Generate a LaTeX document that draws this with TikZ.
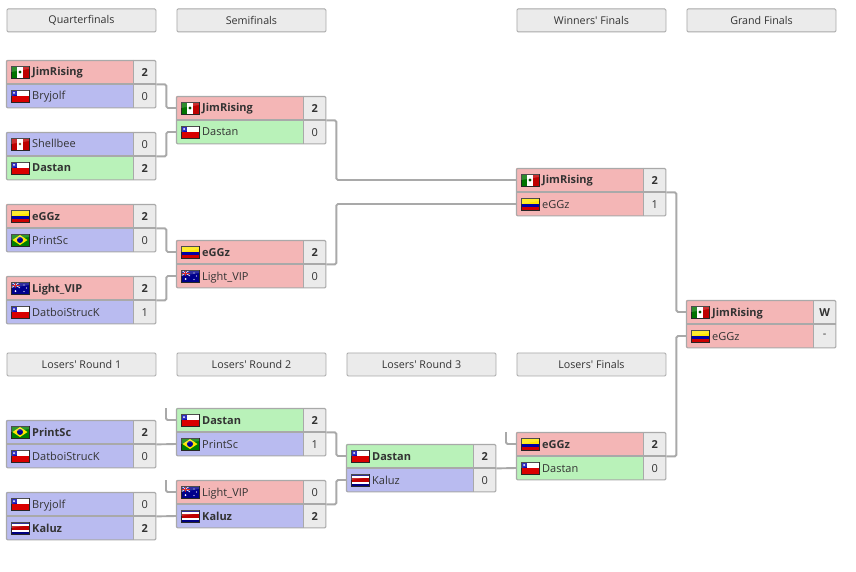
\documentclass[tikz,border=0pt]{standalone}
\usepackage{fontspec}
\setmainfont{Open Sans}
\definecolor{rowred}{HTML}{F4B6B6}
\definecolor{rowblue}{HTML}{B9BBF0}
\definecolor{rowgreen}{HTML}{B9F2B9}
\definecolor{cellgray}{HTML}{EBEBEB}
\definecolor{edgegray}{HTML}{A9A9A9}
\definecolor{inkgray}{HTML}{333333}
\tikzset{
  hdrbox/.style={draw=edgegray,fill=cellgray,line width=0.9pt,rounded corners=1.2pt,minimum width=149pt,minimum height=23pt,inner sep=0pt,anchor=north west,font=\fontsize{10.7}{12}\selectfont,text=inkgray},
  rowbox/.style={line width=0pt,minimum width=127pt,minimum height=24pt,inner sep=0pt,anchor=north west},
  scorebox/.style={fill=cellgray,minimum width=23pt,minimum height=24pt,inner sep=0pt,anchor=north west,font=\fontsize{11}{12}\selectfont,text=inkgray},
  namelabel/.style={inner sep=0pt,anchor=west,text height=8.5pt,text depth=2.5pt,font=\fontsize{11}{12}\selectfont,text=inkgray},
  conn/.style={draw=edgegray,line width=1.9pt,rounded corners=1.5pt},
}
\newcommand{\flagframe}{\draw[black!85,line width=0.6pt] (0,0) rectangle (18,12);\fill[white,opacity=0.18] (0,0) -- (18,0) -- (18,3) -- (0,6) -- cycle;}
\newcommand{\flagMX}{\fill[green!45!black] (0,0) rectangle (6,12);\fill[white] (6,0) rectangle (12,12);\fill[red!75!black] (12,0) rectangle (18,12);\fill[green!30!black] (9,6) circle (1.6);\flagframe}
\newcommand{\flagCL}{\fill[white] (0,0) rectangle (18,6);\fill[red!85!black] (0,6) rectangle (18,12);\fill[blue!70!black] (0,0) rectangle (6,6);\fill[white] (3,3) circle (1);\flagframe}
\newcommand{\flagPE}{\fill[red!75!black] (0,0) rectangle (6,12);\fill[white] (6,0) rectangle (12,12);\fill[red!75!black] (12,0) rectangle (18,12);\fill[brown!70!black] (9,6) circle (1.4);\flagframe}
\newcommand{\flagCO}{\fill[yellow!90!orange] (0,0) rectangle (18,6);\fill[blue!65!black] (0,6) rectangle (18,9);\fill[red!80!black] (0,9) rectangle (18,12);\flagframe}
\newcommand{\flagBR}{\fill[green!50!black] (0,0) rectangle (18,12);\fill[yellow!90!orange] (1.5,6) -- (9,1) -- (16.5,6) -- (9,11) -- cycle;\fill[blue!60!black] (9,6) circle (3);\flagframe}
\newcommand{\flagAU}{\fill[blue!55!black] (0,0) rectangle (18,12);\draw[white,line width=0.6pt] (0,0) -- (9,6) (9,0) -- (0,6);\draw[red!80!black,line width=0.9pt] (4.5,0) -- (4.5,6) (0,3) -- (9,3);\fill[white] (13,3) circle (0.7) (15.5,6) circle (0.7) (13,9.5) circle (0.7) (4.5,9) circle (1);\flagframe}
\newcommand{\flagCR}{\fill[blue!50!black] (0,0) rectangle (18,12);\fill[white] (0,2) rectangle (18,10);\fill[red!75!black] (0,4) rectangle (18,8);\flagframe}
% id, x, y, colour, flag, font, name, score
\newcommand{\prow}[8]{%
  \node[rowbox,fill=#4] (#1) at (#2,#3) {};
  \node[scorebox] (#1s) at (#2+127,#3) {#6#8};
  \begin{scope}[shift={(#2+5,#3+6)}]#5\end{scope}
  \node[namelabel] (#1t) at (#2+26,#3+13) {#6#7};
}
\newcommand{\frameit}[2]{%
  \draw[edgegray,line width=1.4pt] (#2.north west) -- (#2s.north east);
  \draw[edgegray,line width=1pt] (#1s.north west) -- (#2s.south west);
  \draw[edgegray,line width=1.1pt,rounded corners=1.2pt] ([shift={(0.5,0.5)}]#1.north west) rectangle ([shift={(-0.5,-0.5)}]#2s.south east);}
\begin{document}
\begin{tikzpicture}[x=1pt,y=-1pt]
\useasboundingbox (0,0) rectangle (856,572);
\fill[white] (0,0) rectangle (856,572);
% headers
\node[hdrbox] (h1) at (6.5,8.5) {Quarterfinals};
\node[hdrbox] (h2) at (176.5,8.5) {Semifinals};
\node[hdrbox] (h3) at (516.5,8.5) {Winners\textquotesingle\ Finals};
\node[hdrbox] (h4) at (686.5,8.5) {Grand Finals};
\node[hdrbox] (h5) at (6.5,352.5) {Losers\textquotesingle\ Round 1};
\node[hdrbox] (h6) at (176.5,352.5) {Losers\textquotesingle\ Round 2};
\node[hdrbox] (h7) at (346.5,352.5) {Losers\textquotesingle\ Round 3};
\node[hdrbox] (h8) at (516.5,352.5) {Losers\textquotesingle\ Finals};
% winners bracket
\prow{qaa}{6}{60}{rowred}{\flagMX}{\bfseries}{JimRising}{2}
\prow{qab}{6}{84}{rowblue}{\flagCL}{}{Bryjolf}{0}
\prow{qba}{6}{132}{rowblue}{\flagPE}{}{Shellbee}{0}
\prow{qbb}{6}{156}{rowgreen}{\flagCL}{\bfseries}{Dastan}{2}
\prow{qca}{6}{204}{rowred}{\flagCO}{\bfseries}{eGGz}{2}
\prow{qcb}{6}{228}{rowblue}{\flagBR}{}{PrintSc}{0}
\prow{qda}{6}{276}{rowred}{\flagAU}{\bfseries}{Light\_VIP}{2}
\prow{qdb}{6}{300}{rowblue}{\flagCL}{}{DatboiStrucK}{1}
\prow{saa}{176}{96}{rowred}{\flagMX}{\bfseries}{JimRising}{2}
\prow{sab}{176}{120}{rowgreen}{\flagCL}{}{Dastan}{0}
\prow{sba}{176}{240}{rowred}{\flagCO}{\bfseries}{eGGz}{2}
\prow{sbb}{176}{264}{rowred}{\flagAU}{}{Light\_VIP}{0}
\prow{wfa}{516}{168}{rowred}{\flagMX}{\bfseries}{JimRising}{2}
\prow{wfb}{516}{192}{rowred}{\flagCO}{}{eGGz}{1}
\prow{gfa}{686}{300}{rowred}{\flagMX}{\bfseries}{JimRising}{W}
\prow{gfb}{686}{324}{rowred}{\flagCO}{}{eGGz}{-}
% losers bracket
\prow{laa}{6}{420}{rowblue}{\flagBR}{\bfseries}{PrintSc}{2}
\prow{lab}{6}{444}{rowblue}{\flagCL}{}{DatboiStrucK}{0}
\prow{lba}{6}{492}{rowblue}{\flagCL}{}{Bryjolf}{0}
\prow{lbb}{6}{516}{rowblue}{\flagCR}{\bfseries}{Kaluz}{2}
\prow{maa}{176}{408}{rowgreen}{\flagCL}{\bfseries}{Dastan}{2}
\prow{mab}{176}{432}{rowblue}{\flagBR}{}{PrintSc}{1}
\prow{mba}{176}{480}{rowred}{\flagAU}{}{Light\_VIP}{0}
\prow{mbb}{176}{504}{rowblue}{\flagCR}{\bfseries}{Kaluz}{2}
\prow{naa}{346}{444}{rowgreen}{\flagCL}{\bfseries}{Dastan}{2}
\prow{nab}{346}{468}{rowblue}{\flagCR}{}{Kaluz}{0}
\prow{oaa}{516}{432}{rowred}{\flagCO}{\bfseries}{eGGz}{2}
\prow{oab}{516}{456}{rowgreen}{\flagCL}{}{Dastan}{0}
% frames
\foreach \u/\v in {qaa/qab,qba/qbb,qca/qcb,qda/qdb,saa/sab,sba/sbb,wfa/wfb,gfa/gfb,laa/lab,lba/lbb,maa/mab,mba/mbb,naa/nab,oaa/oab}{\frameit{\u}{\v}}
% connectors
\draw[conn] (qaas.south east) -- ++(10,0) |- (saa.west);
\draw[conn] (qbas.south east) -- ++(10,0) |- (sab.west);
\draw[conn] (qcas.south east) -- ++(10,0) |- (sba.west);
\draw[conn] (qdas.south east) -- ++(10,0) |- (sbb.west);
\draw[conn] (saas.south east) -- ++(10,0) |- (wfa.west);
\draw[conn] (sbas.south east) -- ++(10,0) |- (wfb.west);
\draw[conn] (wfas.south east) -- ++(10,0) |- (gfa.west);
\draw[conn] (oaas.south east) -- ++(10,0) |- (gfb.west);
\draw[conn] (laas.south east) -- (mab.west);
\draw[conn] (lbas.south east) -- (mbb.west);
\coordinate (stubm) at (166,408);
\coordinate (stubn) at (166,480);
\coordinate (stubo) at (506,432);
\draw[conn] (stubm) |- (maa.west);
\draw[conn] (stubn) |- (mba.west);
\draw[conn] (stubo) |- (oaa.west);
\draw[conn] (maas.south east) -- ++(10,0) |- (naa.west);
\draw[conn] (mbas.south east) -- ++(10,0) |- (nab.west);
\draw[conn] (naas.south east) -- (oab.west);
\end{tikzpicture}
\end{document}
